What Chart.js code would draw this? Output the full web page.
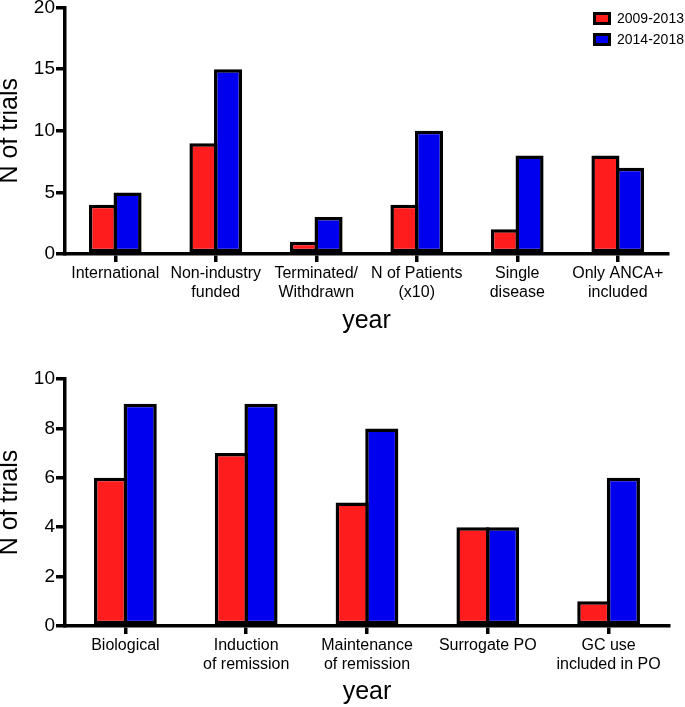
<!DOCTYPE html>
<html>
<head>
<meta charset="utf-8">
<script src="https://cdn.jsdelivr.net/npm/chart.js@4/dist/chart.umd.min.js"></script>
<style>
  body { margin: 0; background: #fff; }
  #wrap { position: relative; width: 685px; height: 707px; }
  #topBox { position: absolute; left: 0; top: 0; }
  #bottomBox { position: absolute; left: 0; top: 345px; }
</style>
</head>
<body>
<div id="wrap">
  <div id="topBox"><canvas id="topChart" width="685" height="345"></canvas></div>
  <div id="bottomBox"><canvas id="bottomChart" width="685" height="362"></canvas></div>
</div>
<script>
// series
const seriesLabels = ["2009-2013", "2014-2018"];
const seriesColors = ["#ff1c1c", "#0000ee"];

// top panel
const topCategories = ["International", ["Non-industry", "funded"], ["Terminated/", "Withdrawn"],
  ["N of Patients", "(x10)"], ["Single", "disease"], ["Only ANCA+", "included"]];
const top2009 = [4, 9, 1, 4, 2, 8];
const top2014 = [5, 15, 3, 10, 8, 7];
const topTicks = [0, 5, 10, 15, 20];

// bottom panel
const bottomCategories = ["Biological", ["Induction", "of remission"], ["Maintenance", "of remission"],
  "Surrogate PO", ["GC use", "included in PO"]];
const bottom2009 = [6, 7, 5, 4, 1];
const bottom2014 = [9, 9, 8, 4, 6];
const bottomTicks = [0, 2, 4, 6, 8, 10];

const FONT = "'Liberation Sans', Arial, Helvetica, sans-serif";

// small legend drawn in the top-right corner
const cornerLegend = {
  id: "cornerLegend",
  afterDraw(chart) {
    const ctx = chart.ctx;
    ctx.save();
    chart.data.datasets.forEach((ds, i) => {
      const y = 12 + i * 21;
      ctx.fillStyle = "#000";
      ctx.fillRect(593, y, 18, 13);
      ctx.fillStyle = ds.backgroundColor;
      ctx.fillRect(596, y + 3, 12, 7);
      ctx.fillStyle = "#000";
      ctx.font = "14px " + FONT;
      ctx.textBaseline = "middle";
      ctx.textAlign = "left";
      ctx.fillText(ds.label, 617, y + 7);
    });
    ctx.restore();
  }
};

function makeChart(id, labels, a, b, ticks, opts) {
  const ctx = document.getElementById(id).getContext("2d");
  return new Chart(ctx, {
    type: "bar",
    data: {
      labels: labels,
      datasets: [a, b].map((vals, i) => ({
        label: seriesLabels[i],
        data: vals,
        backgroundColor: seriesColors[i],
        borderColor: "#000",
        borderWidth: 3.5,
        borderSkipped: false,
        categoryPercentage: 0.49,
        barPercentage: opts.barPct
      }))
    },
    options: {
      responsive: false,
      animation: false,
      layout: { padding: { top: opts.padTop, right: opts.padRight, left: 0, bottom: 0 } },
      plugins: { legend: { display: false }, tooltip: { enabled: false } },
      scales: {
        x: {
          afterFit: s => { s.height = opts.xHeight; },
          grid: { offset: false, drawOnChartArea: false, drawTicks: true, tickLength: 8, lineWidth: 3.5, color: "#000" },
          border: { display: true, color: "#000", width: 3.5 },
          ticks: { color: "#000", font: { family: FONT, size: 16, lineHeight: 1.2 }, padding: 2, maxRotation: 0, autoSkip: false },
          title: { display: true, text: "year", color: "#000", font: { family: FONT, size: 25, lineHeight: 1.2 }, padding: { top: 0, bottom: opts.titlePad } }
        },
        y: {
          min: 0,
          max: ticks[ticks.length - 1],
          afterFit: s => { s.width = 65; },
          afterBuildTicks: s => { s.ticks = ticks.map(v => ({ value: v })); },
          grid: { drawOnChartArea: false, drawTicks: true, tickLength: 9, lineWidth: 3.5, color: "#000" },
          border: { display: true, color: "#000", width: 3.5 },
          ticks: { color: "#000", font: { family: FONT, size: 19, lineHeight: 0.7 }, padding: 1 },
          title: { display: true, text: "N of trials", color: "#000", font: { family: FONT, size: 25, lineHeight: 0.8 }, padding: 0 }
        }
      }
    },
    plugins: opts.legend ? [cornerLegend] : []
  });
}

makeChart("topChart", topCategories, top2009, top2014, topTicks,
  { barPct: 1.14, padTop: 7, padRight: 17, xHeight: 91, titlePad: 9, legend: true });
makeChart("bottomChart", bottomCategories, bottom2009, bottom2014, bottomTicks,
  { barPct: 1.12, padTop: 34, padRight: 16, xHeight: 81, titlePad: 0, legend: false });
</script>
</body>
</html>
